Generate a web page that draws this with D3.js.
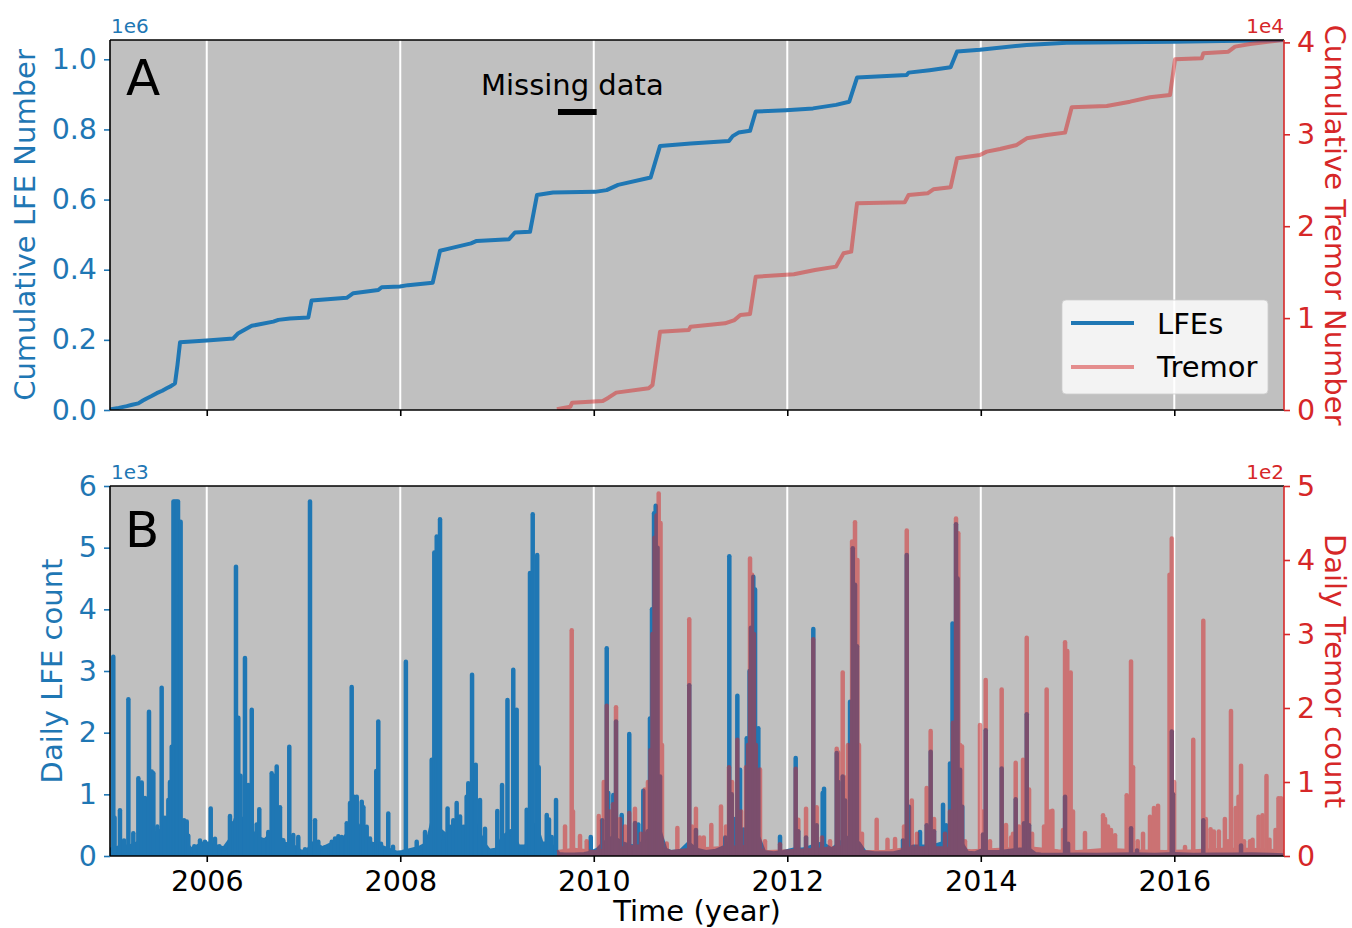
<!DOCTYPE html>
<html>
<head>
<meta charset="utf-8">
<script src="https://cdn.jsdelivr.net/npm/d3@7"></script>
<style>
  body { margin: 0; background: #ffffff; }
  svg { display: block; font-family: "DejaVu Sans", sans-serif; }
</style>
</head>
<body>
<svg id="chart" width="1352" height="928"></svg>
<script>
// ---------- data ----------
const yearTicks = [2006, 2008, 2010, 2012, 2014, 2016];
const lfeCumTicks = [0, 200000, 400000, 600000, 800000, 1000000];
const tremorCumTicks = [0, 10000, 20000, 30000, 40000];
const lfeDailyTicks = [0, 1000, 2000, 3000, 4000, 5000, 6000];
const tremorDailyTicks = [0, 100, 200, 300, 400, 500];
const missingDataSpan = [2009.63, 2010.03];

// cumulative number of events, [decimal year, count]
const lfeCumulative = [
  [2005.000, 0], [2005.010, 2000], [2005.090, 6000], [2005.173, 11000], [2005.230, 15000],
  [2005.293, 19000], [2005.340, 27000], [2005.379, 33000], [2005.430, 40000], [2005.483, 48000],
  [2005.540, 55000], [2005.586, 62000], [2005.630, 68000], [2005.672, 76000], [2005.698, 130000],
  [2005.724, 193000], [2005.999, 198000], [2006.274, 204000], [2006.326, 219000], [2006.465, 240000],
  [2006.688, 252000], [2006.740, 257000], [2006.860, 261000], [2007.050, 264000], [2007.083, 312000],
  [2007.447, 320000], [2007.515, 333000], [2007.773, 342000], [2007.808, 350000], [2007.997, 352000],
  [2008.080, 356000], [2008.335, 363000], [2008.411, 454000], [2008.514, 461000], [2008.731, 475000],
  [2008.790, 482000], [2009.124, 487000], [2009.185, 506000], [2009.341, 508000], [2009.413, 613000],
  [2009.579, 620000], [2010.013, 622000], [2010.133, 627000], [2010.251, 642000], [2010.588, 663000],
  [2010.685, 753000], [2011.002, 760000], [2011.397, 767000], [2011.436, 781000], [2011.496, 791000],
  [2011.615, 796000], [2011.674, 851000], [2011.987, 855000], [2012.266, 860000], [2012.504, 870000],
  [2012.641, 879000], [2012.721, 948000], [2013.234, 955000], [2013.254, 962000], [2013.471, 969000],
  [2013.688, 977000], [2013.755, 1022000], [2013.992, 1027000], [2014.475, 1041000], [2014.888, 1047000],
  [2015.987, 1050000], [2017.124, 1055000]
];

const tremorCumulative = [
  [2009.619, 80], [2009.758, 360], [2009.777, 800], [2010.093, 980], [2010.152, 1340],
  [2010.232, 1890], [2010.568, 2360], [2010.607, 2720], [2010.685, 8520], [2010.982, 8700],
  [2011.001, 9060], [2011.356, 9430], [2011.455, 9790], [2011.515, 10340], [2011.615, 10450],
  [2011.674, 14500], [2012.069, 14770], [2012.286, 15230], [2012.504, 15600], [2012.582, 17050],
  [2012.661, 17230], [2012.721, 22490], [2013.214, 22600], [2013.254, 23390], [2013.450, 23580],
  [2013.510, 24010], [2013.688, 24230], [2013.755, 27390], [2013.992, 27750], [2014.061, 28110],
  [2014.199, 28400], [2014.372, 28840], [2014.475, 29560], [2014.681, 29920], [2014.871, 30180],
  [2014.940, 32940], [2015.302, 33080], [2015.543, 33550], [2015.749, 34030], [2015.956, 34280],
  [2016.008, 38160], [2016.284, 38270], [2016.300, 38810], [2016.559, 38990], [2016.628, 39540],
  [2016.783, 39830], [2017.127, 40260]
];

// daily counts: background level between bursts, [decimal year, count]
const lfeDailyFloor = [
  [2005.00, 100], [2005.06, 120], [2005.12, 150], [2005.20, 150], [2005.28, 200], [2005.36, 300],
  [2005.45, 350], [2005.52, 400], [2005.60, 500], [2005.66, 800], [2005.74, 400], [2005.78, 200],
  [2005.84, 100], [2005.90, 150], [2005.96, 200], [2006.02, 200], [2006.10, 150], [2006.18, 120],
  [2006.24, 250], [2006.30, 600], [2006.40, 600], [2006.50, 300], [2006.60, 250], [2006.70, 400],
  [2006.80, 200], [2006.90, 150], [2006.98, 60], [2007.04, 80], [2007.10, 200], [2007.20, 120],
  [2007.30, 200], [2007.40, 250], [2007.48, 400], [2007.56, 500], [2007.62, 300], [2007.70, 200],
  [2007.80, 150], [2007.88, 100], [2007.96, 50], [2008.02, 60], [2008.12, 100], [2008.20, 130],
  [2008.28, 200], [2008.34, 600], [2008.42, 400], [2008.50, 300], [2008.60, 400], [2008.70, 500],
  [2008.78, 500], [2008.86, 200], [2008.92, 80], [2009.00, 100], [2009.06, 300], [2009.14, 400],
  [2009.22, 150], [2009.30, 150], [2009.40, 500], [2009.46, 200], [2009.54, 200], [2009.60, 100],
  [2009.64, 30], [2009.70, 20], [2009.80, 20], [2009.90, 30], [2009.97, 50], [2010.04, 100],
  [2010.10, 200], [2010.20, 300], [2010.30, 200], [2010.40, 150], [2010.50, 200], [2010.56, 400],
  [2010.68, 400], [2010.74, 100], [2010.80, 60], [2010.90, 80], [2010.98, 200], [2011.06, 100],
  [2011.16, 60], [2011.26, 80], [2011.36, 150], [2011.46, 300], [2011.56, 300], [2011.70, 300],
  [2011.76, 60], [2011.86, 40], [2011.96, 60], [2012.06, 100], [2012.16, 100], [2012.26, 150],
  [2012.36, 200], [2012.46, 100], [2012.54, 200], [2012.64, 300], [2012.74, 200], [2012.80, 60],
  [2012.90, 40], [2013.00, 40], [2013.10, 40], [2013.20, 80], [2013.30, 150], [2013.40, 150],
  [2013.50, 150], [2013.60, 200], [2013.70, 300], [2013.80, 200], [2013.86, 50], [2013.94, 40],
  [2014.00, 80], [2014.08, 60], [2014.20, 60], [2014.30, 80], [2014.40, 100], [2014.50, 100],
  [2014.56, 30], [2014.62, 20], [2014.80, 15], [2015.00, 20], [2015.20, 15], [2015.40, 20],
  [2015.60, 25], [2015.80, 15], [2016.00, 30], [2016.20, 15], [2016.40, 20], [2016.60, 20],
  [2016.80, 25], [2017.00, 15], [2017.13, 10]
];

const tremorDailyFloor = [
  [2009.62, 5], [2009.80, 8], [2010.00, 5], [2010.30, 10], [2010.60, 15], [2010.80, 5],
  [2011.00, 8], [2011.30, 10], [2011.60, 12], [2011.80, 5], [2012.00, 6], [2012.30, 8],
  [2012.60, 12], [2012.80, 5], [2013.00, 5], [2013.30, 10], [2013.60, 10], [2013.90, 6],
  [2014.20, 8], [2014.50, 10], [2014.80, 6], [2015.00, 5], [2015.30, 8], [2015.60, 6],
  [2015.90, 5], [2016.20, 6], [2016.50, 8], [2016.80, 8], [2017.13, 6]
];

// daily counts: individual burst days, [decimal year, count]
const lfeDailyPeaks = [
  [2005.034, 3230], [2005.047, 620], [2005.103, 740], [2005.145, 250], [2005.190, 2540],
  [2005.241, 370], [2005.293, 1260], [2005.328, 1190], [2005.362, 940], [2005.403, 2340],
  [2005.431, 1370], [2005.448, 1340], [2005.489, 480], [2005.534, 2730], [2005.568, 620],
  [2005.603, 910], [2005.620, 1200], [2005.638, 1770], [2005.656, 5750], [2005.672, 5750],
  [2005.688, 5750], [2005.703, 5750], [2005.718, 4200], [2005.730, 5420], [2005.765, 580],
  [2005.793, 560], [2005.809, 330], [2005.871, 160], [2005.930, 250], [2005.982, 230],
  [2006.041, 770], [2006.085, 280], [2006.130, 160], [2006.240, 650], [2006.274, 530],
  [2006.302, 4690], [2006.326, 2240], [2006.349, 1300], [2006.395, 3210], [2006.429, 1150],
  [2006.465, 2370], [2006.516, 510], [2006.543, 760], [2006.584, 255], [2006.636, 390],
  [2006.671, 1340], [2006.695, 1300], [2006.723, 1450], [2006.757, 790], [2006.791, 255],
  [2006.853, 1770], [2006.894, 340], [2006.946, 310], [2007.016, 110], [2007.067, 5750],
  [2007.119, 580], [2007.153, 230], [2007.222, 140], [2007.292, 230], [2007.326, 285],
  [2007.360, 320], [2007.395, 310], [2007.447, 530], [2007.481, 860], [2007.498, 2740],
  [2007.522, 960], [2007.550, 960], [2007.602, 880], [2007.619, 790], [2007.653, 475],
  [2007.687, 285], [2007.752, 1380], [2007.773, 2180], [2007.801, 200], [2007.876, 690],
  [2007.925, 150], [2008.058, 3150], [2008.170, 230], [2008.256, 390], [2008.290, 260],
  [2008.325, 1560], [2008.352, 4920], [2008.377, 5180], [2008.395, 3500], [2008.411, 5460],
  [2008.445, 240], [2008.489, 770], [2008.514, 475], [2008.548, 580], [2008.583, 860],
  [2008.618, 640], [2008.652, 475], [2008.686, 960], [2008.703, 1180], [2008.742, 2940],
  [2008.773, 1230], [2008.780, 1480], [2008.824, 910], [2008.858, 285], [2008.876, 440],
  [2009.003, 730], [2009.052, 1150], [2009.108, 2530], [2009.168, 3020], [2009.203, 2370],
  [2009.307, 750], [2009.341, 4590], [2009.369, 5540], [2009.415, 4880], [2009.431, 1440],
  [2009.514, 665], [2009.537, 590], [2009.565, 310], [2009.610, 910], [2009.969, 310],
  [2010.087, 580], [2010.134, 3370], [2010.150, 1020], [2010.202, 990], [2010.230, 2180],
  [2010.289, 665], [2010.367, 1980], [2010.426, 535], [2010.460, 510], [2010.512, 1060],
  [2010.581, 2230], [2010.602, 4000], [2010.623, 5560], [2010.640, 5680], [2010.659, 5000],
  [2010.685, 1290], [2010.987, 2770], [2011.056, 420], [2011.359, 300], [2011.401, 4860],
  [2011.426, 1000], [2011.449, 600], [2011.484, 2600], [2011.512, 1400], [2011.546, 430],
  [2011.581, 1910], [2011.610, 3000], [2011.625, 3700], [2011.649, 4530], [2011.667, 4320],
  [2011.701, 2070], [2011.925, 313], [2012.087, 1590], [2012.114, 400], [2012.194, 300],
  [2012.269, 3680], [2012.304, 500], [2012.366, 1020], [2012.380, 1090], [2012.511, 1670],
  [2012.527, 1200], [2012.573, 1290], [2012.597, 900], [2012.649, 2500], [2012.677, 4990],
  [2012.700, 4400], [2012.720, 3400], [2013.196, 250], [2013.235, 4880], [2013.258, 800],
  [2013.372, 390], [2013.441, 500], [2013.482, 1690], [2013.517, 400], [2013.610, 830],
  [2013.641, 500], [2013.682, 1500], [2013.708, 3770], [2013.744, 5380], [2013.760, 4500],
  [2013.786, 1400], [2013.809, 800], [2014.023, 350], [2014.051, 2040], [2014.216, 1420],
  [2014.361, 920], [2014.447, 530], [2014.475, 2300], [2014.499, 500], [2014.871, 960],
  [2014.902, 200], [2015.553, 450], [2015.615, 90], [2015.974, 2020], [2015.987, 1000],
  [2016.300, 580], [2016.690, 170]
];

const tremorDailyPeaks = [
  [2009.703, 40], [2009.772, 305], [2009.785, 60], [2009.858, 27], [2009.927, 20],
  [2010.052, 54], [2010.104, 100], [2010.134, 203], [2010.168, 60], [2010.199, 70],
  [2010.230, 201], [2010.271, 50], [2010.323, 40], [2010.367, 58], [2010.426, 64],
  [2010.488, 30], [2010.529, 90], [2010.560, 100], [2010.586, 143], [2010.607, 300],
  [2010.628, 430], [2010.649, 460], [2010.671, 490], [2010.690, 450], [2010.705, 150],
  [2010.754, 17], [2010.864, 38], [2010.987, 320], [2011.015, 40], [2011.056, 64],
  [2011.096, 25], [2011.137, 25], [2011.215, 42], [2011.315, 67], [2011.367, 40],
  [2011.398, 120], [2011.429, 100], [2011.484, 157], [2011.522, 60], [2011.574, 120],
  [2011.595, 150], [2011.615, 402], [2011.636, 380], [2011.655, 300], [2011.675, 150],
  [2011.718, 117], [2011.770, 20], [2011.925, 16], [2012.087, 118], [2012.114, 49],
  [2012.194, 64], [2012.269, 293], [2012.304, 66], [2012.359, 25], [2012.442, 20],
  [2012.511, 145], [2012.528, 140], [2012.573, 248], [2012.597, 106], [2012.628, 150],
  [2012.670, 425], [2012.700, 451], [2012.725, 400], [2012.741, 150], [2012.772, 30],
  [2012.924, 49], [2013.036, 22], [2013.114, 23], [2013.207, 40], [2013.235, 440],
  [2013.287, 75], [2013.341, 30], [2013.441, 92], [2013.482, 169], [2013.517, 50],
  [2013.630, 30], [2013.682, 60], [2013.713, 180], [2013.744, 456], [2013.768, 436],
  [2013.786, 150], [2013.806, 148], [2013.837, 20], [2013.992, 177], [2014.023, 60],
  [2014.051, 238], [2014.095, 20], [2014.216, 225], [2014.261, 42], [2014.313, 25],
  [2014.333, 30], [2014.361, 126], [2014.395, 40], [2014.437, 130], [2014.475, 295],
  [2014.499, 90], [2014.530, 30], [2014.654, 40], [2014.681, 225], [2014.716, 60],
  [2014.740, 61], [2014.850, 35], [2014.871, 289], [2014.894, 277], [2014.929, 248],
  [2014.953, 60], [2015.077, 31], [2015.264, 55], [2015.284, 50], [2015.315, 40],
  [2015.346, 35], [2015.388, 28], [2015.508, 82], [2015.532, 80], [2015.553, 263],
  [2015.574, 120], [2015.622, 20], [2015.677, 30], [2015.749, 53], [2015.790, 65],
  [2015.832, 68], [2015.951, 380], [2015.974, 429], [2015.998, 100], [2016.111, 12],
  [2016.196, 157], [2016.300, 318], [2016.326, 50], [2016.375, 36], [2016.409, 33],
  [2016.461, 33], [2016.523, 50], [2016.555, 20], [2016.586, 196], [2016.635, 65],
  [2016.664, 80], [2016.690, 122], [2016.721, 20], [2016.783, 20], [2016.809, 22],
  [2016.871, 53], [2016.912, 55], [2016.953, 108], [2016.984, 22], [2017.046, 35],
  [2017.077, 78], [2017.103, 78]
];

// ---------- layout ----------
const BLUE = "#1f77b4", RED = "#d62728", PANEL_BG = "#c0c0c0";
const plotL = 110, plotR = 1284;
const topPanel = { t: 40, b: 410 };
const botPanel = { t: 486, b: 856 };
const TICK_FONT = 28.5, LABEL_FONT = 29;

const svg = d3.select("#chart");
const defs = svg.append("defs");

const x = d3.scaleLinear().domain([2005.0, 2017.134]).range([plotL, plotR]);

const yLfeCum = d3.scaleLinear().domain([0, 1055000]).range([topPanel.b, topPanel.t]);
const yTrCum = d3.scaleLinear().domain([0, 40260]).range([topPanel.b, topPanel.t]);
const yLfeDay = d3.scaleLinear().domain([0, 6000]).range([botPanel.b, botPanel.t]);
const yTrDay = d3.scaleLinear().domain([0, 500]).range([botPanel.b, botPanel.t]);

function drawBackground(p, clipId) {
  svg.append("rect")
    .attr("x", plotL).attr("y", p.t)
    .attr("width", plotR - plotL).attr("height", p.b - p.t)
    .attr("fill", PANEL_BG);
  defs.append("clipPath").attr("id", clipId)
    .append("rect")
    .attr("x", plotL).attr("y", p.t)
    .attr("width", plotR - plotL).attr("height", p.b - p.t);
  svg.append("g").selectAll("line").data(yearTicks).join("line")
    .attr("x1", d => x(d)).attr("x2", d => x(d))
    .attr("y1", p.t).attr("y2", p.b)
    .attr("stroke", "#ffffff").attr("stroke-width", 2);
}

function styleAxis(g, color, fontSize) {
  g.attr("font-family", "DejaVu Sans").attr("font-size", fontSize);
  g.select(".domain").remove();
  g.selectAll(".tick line").attr("stroke", color).attr("stroke-width", 1.6);
  g.selectAll(".tick text").attr("fill", color);
}

function drawFrame(p) {
  const g = svg.append("g").attr("fill", "none").attr("stroke-width", 1.6);
  g.append("line").attr("x1", plotL).attr("x2", plotR).attr("y1", p.t).attr("y2", p.t).attr("stroke", "#000");
  g.append("line").attr("x1", plotL).attr("x2", plotR).attr("y1", p.b).attr("y2", p.b).attr("stroke", "#000");
  g.append("line").attr("x1", plotL).attr("x2", plotL).attr("y1", p.t).attr("y2", p.b).attr("stroke", "#000");
  g.append("line").attr("x1", plotR).attr("x2", plotR).attr("y1", p.t).attr("y2", p.b).attr("stroke", RED);
}

// ---------- panel A: cumulative counts ----------
drawBackground(topPanel, "clipTop");

const cumLine = y => d3.line().x(d => x(d[0])).y(d => y(d[1]));

const topData = svg.append("g").attr("clip-path", "url(#clipTop)");
topData.append("path")
  .datum(lfeCumulative)
  .attr("d", cumLine(yLfeCum))
  .attr("fill", "none").attr("stroke", BLUE).attr("stroke-width", 4)
  .attr("stroke-linejoin", "round");
topData.append("path")
  .datum(tremorCumulative)
  .attr("d", cumLine(yTrCum))
  .attr("fill", "none").attr("stroke", RED).attr("stroke-opacity", 0.5)
  .attr("stroke-width", 4).attr("stroke-linejoin", "round");

// missing-data marker
svg.append("line")
  .attr("x1", x(missingDataSpan[0])).attr("x2", x(missingDataSpan[1]))
  .attr("y1", 112).attr("y2", 112)
  .attr("stroke", "#000").attr("stroke-width", 6);
svg.append("text")
  .attr("x", 481).attr("y", 95)
  .attr("font-size", LABEL_FONT).attr("fill", "#000")
  .text("Missing data");

svg.append("text").attr("x", 126).attr("y", 95)
  .attr("font-size", 50).attr("fill", "#000").text("A");

// legend
const legend = svg.append("g");
legend.append("rect")
  .attr("x", 1062).attr("y", 300).attr("width", 206).attr("height", 94)
  .attr("rx", 4).attr("ry", 4)
  .attr("fill", "#ffffff").attr("fill-opacity", 0.8)
  .attr("stroke", "#cccccc").attr("stroke-opacity", 0.8).attr("stroke-width", 1);
legend.append("line").attr("x1", 1071).attr("x2", 1134).attr("y1", 323).attr("y2", 323)
  .attr("stroke", BLUE).attr("stroke-width", 4);
legend.append("line").attr("x1", 1071).attr("x2", 1134).attr("y1", 367).attr("y2", 367)
  .attr("stroke", RED).attr("stroke-opacity", 0.5).attr("stroke-width", 4);
legend.append("text").attr("x", 1157).attr("y", 334).attr("font-size", LABEL_FONT).attr("fill", "#000").text("LFEs");
legend.append("text").attr("x", 1157).attr("y", 377).attr("font-size", LABEL_FONT).attr("fill", "#000").text("Tremor");

// axes A
svg.append("g").attr("transform", `translate(0,${topPanel.b})`)
  .call(d3.axisBottom(x).tickValues(yearTicks).tickFormat("").tickSize(6))
  .call(g => styleAxis(g, "#000", TICK_FONT));
svg.append("g").attr("transform", `translate(${plotL},0)`)
  .call(d3.axisLeft(yLfeCum).tickValues(lfeCumTicks).tickFormat(d => (d / 1e6).toFixed(1)).tickSize(6).tickPadding(7))
  .call(g => styleAxis(g, BLUE, TICK_FONT));
svg.append("g").attr("transform", `translate(${plotR},0)`)
  .call(d3.axisRight(yTrCum).tickValues(tremorCumTicks).tickFormat(d => String(d / 1e4)).tickSize(6).tickPadding(7))
  .call(g => styleAxis(g, RED, TICK_FONT));
drawFrame(topPanel);

svg.append("text").attr("x", 111).attr("y", 33).attr("font-size", 20).attr("fill", BLUE).text("1e6");
svg.append("text").attr("x", 1284).attr("y", 33).attr("font-size", 20).attr("fill", RED)
  .attr("text-anchor", "end").text("1e4");
svg.append("text").attr("transform", "translate(35,225) rotate(-90)")
  .attr("text-anchor", "middle").attr("font-size", LABEL_FONT).attr("fill", BLUE)
  .text("Cumulative LFE Number");
svg.append("text").attr("transform", "translate(1325,225) rotate(90)")
  .attr("text-anchor", "middle").attr("font-size", LABEL_FONT).attr("fill", RED)
  .text("Cumulative Tremor Number");

// ---------- panel B: daily counts ----------
drawBackground(botPanel, "clipBot");

// background activity is a dense day-to-day zigzag, so it reads as a filled band
function drawDaily(floor, peaks, y, color, opacity) {
  const g = svg.append("g").attr("clip-path", "url(#clipBot)")
    .append("g").attr("opacity", opacity);
  g.append("path")
    .datum(floor)
    .attr("d", d3.area().x(d => x(d[0])).y0(y(0)).y1(d => y(d[1])))
    .attr("fill", color);
  g.append("path")
    .datum(floor)
    .attr("d", d3.line().x(d => x(d[0])).y(d => y(d[1])))
    .attr("fill", "none").attr("stroke", color).attr("stroke-width", 4.5)
    .attr("stroke-linejoin", "round");
  g.selectAll("line.peak").data(peaks).join("line")
    .attr("class", "peak")
    .attr("x1", d => x(d[0])).attr("x2", d => x(d[0]))
    .attr("y1", y(0)).attr("y2", d => y(d[1]))
    .attr("stroke", color).attr("stroke-width", 4.5)
    .attr("stroke-linecap", "round");
}
drawDaily(lfeDailyFloor, lfeDailyPeaks, yLfeDay, BLUE, 1);
drawDaily(tremorDailyFloor, tremorDailyPeaks, yTrDay, RED, 0.5);

svg.append("text").attr("x", 125).attr("y", 547)
  .attr("font-size", 50).attr("fill", "#000").text("B");

svg.append("g").attr("transform", `translate(0,${botPanel.b})`)
  .call(d3.axisBottom(x).tickValues(yearTicks).tickFormat(d3.format("d")).tickSize(6).tickPadding(9))
  .call(g => styleAxis(g, "#000", TICK_FONT));
svg.append("g").attr("transform", `translate(${plotL},0)`)
  .call(d3.axisLeft(yLfeDay).tickValues(lfeDailyTicks).tickFormat(d => String(d / 1e3)).tickSize(6).tickPadding(7))
  .call(g => styleAxis(g, BLUE, TICK_FONT));
svg.append("g").attr("transform", `translate(${plotR},0)`)
  .call(d3.axisRight(yTrDay).tickValues(tremorDailyTicks).tickFormat(d => String(d / 1e2)).tickSize(6).tickPadding(7))
  .call(g => styleAxis(g, RED, TICK_FONT));
drawFrame(botPanel);

svg.append("text").attr("x", 111).attr("y", 479).attr("font-size", 20).attr("fill", BLUE).text("1e3");
svg.append("text").attr("x", 1284).attr("y", 479).attr("font-size", 20).attr("fill", RED)
  .attr("text-anchor", "end").text("1e2");
svg.append("text").attr("transform", "translate(62,671) rotate(-90)")
  .attr("text-anchor", "middle").attr("font-size", LABEL_FONT).attr("fill", BLUE)
  .text("Daily LFE count");
svg.append("text").attr("transform", "translate(1325,671) rotate(90)")
  .attr("text-anchor", "middle").attr("font-size", LABEL_FONT).attr("fill", RED)
  .text("Daily Tremor count");

svg.append("text").attr("x", (plotL + plotR) / 2).attr("y", 921)
  .attr("text-anchor", "middle").attr("font-size", LABEL_FONT).attr("fill", "#000")
  .text("Time (year)");
</script>
</body>
</html>
